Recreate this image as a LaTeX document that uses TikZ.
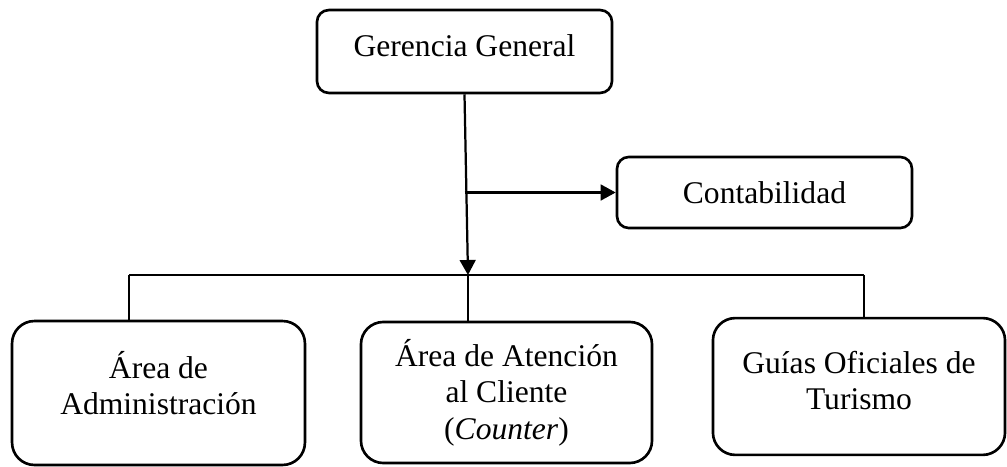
\documentclass[tikz,border=0pt]{standalone}
\usepackage{fontspec}
\setmainfont{Liberation Serif}
\usetikzlibrary{arrows.meta}
\tikzset{
  caja/.style={draw, line width=1pt, rounded corners=4.5pt, minimum width=112.1pt, align=center, inner sep=2pt},
  area/.style={draw, line width=1pt, rounded corners=8.5pt, align=center, inner sep=2pt},
  enlace/.style={line width=0.55pt},
  flecha/.style={line width=0.85pt, -{Triangle[length=5.7pt,width=6pt]}}
}
\begin{document}
\begin{tikzpicture}[x=0.38pt,y=-0.38pt,font=\fontsize{12pt}{13.8pt}\selectfont]
 \useasboundingbox (0,0) rectangle (1007,467);
 % cajas
 \node[caja, minimum height=31.5pt, text depth=4.6pt] (ger) at (464.5,51.5) {Gerencia General};
 \node[caja, minimum height=27pt] (cont) at (764.5,192.5) {Contabilidad};
 \node[area, minimum width=111.3pt, minimum height=54.7pt, text depth=7.6pt] (adm) at (158.5,393) {Área de\\Administración};
 \node[area, minimum width=110.6pt, minimum height=53.6pt] (cli) at (506.5,392.5) {Área de Atención\\al Cliente\\(\textit{Counter})};
 \node[area, minimum width=111pt, minimum height=52pt, text depth=4.6pt] (tur) at (859,386.5) {Guías Oficiales de\\Turismo};
 % conectores
 \coordinate (barra) at (468,275);
 \coordinate (bi) at (129,275);
 \coordinate (bd) at (864,275);
 \draw[flecha] (ger.south) -- (barra);
 \draw[flecha] (cont.west -| ger.south) -- (cont.west);
 \draw[enlace] (bi) -- (bd);
 \draw[enlace] (bi) -- (bi |- adm.north);
 \draw[enlace] (barra) -- (barra |- cli.north);
 \draw[enlace] (bd) -- (bd |- tur.north);
\end{tikzpicture}
\end{document}
